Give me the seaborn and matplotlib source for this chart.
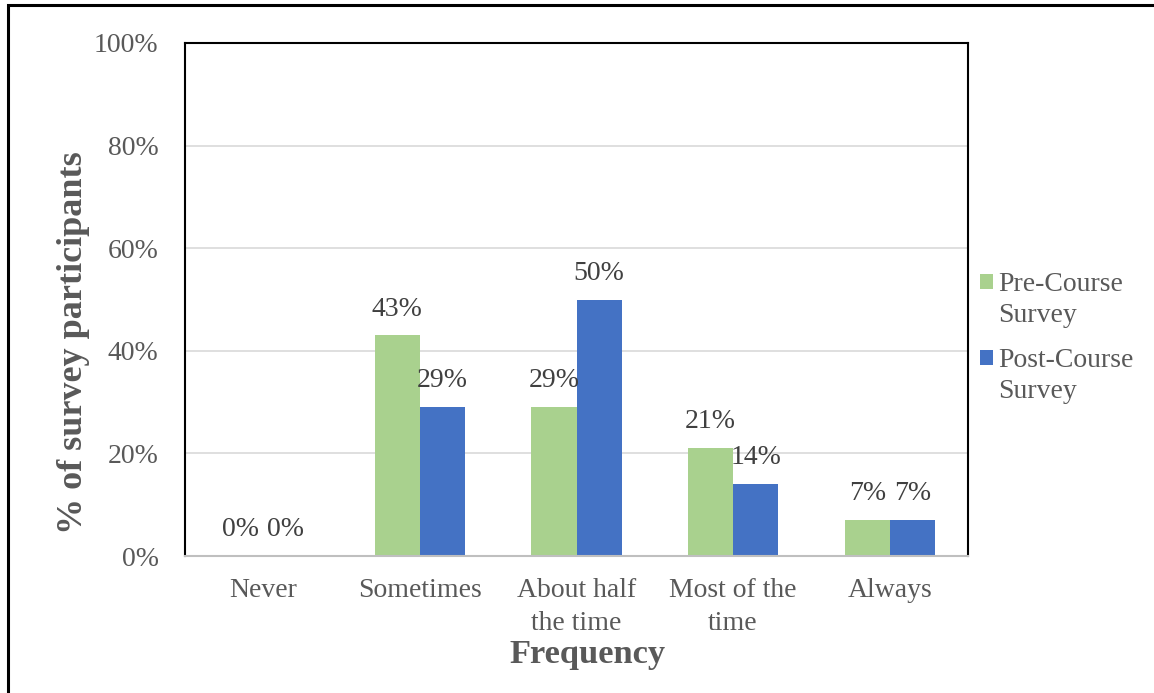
import matplotlib
matplotlib.use("Agg")
import matplotlib.pyplot as plt
import seaborn as sns
import pandas as pd
from matplotlib.patches import Rectangle, Patch
from matplotlib.legend_handler import HandlerPatch

categories = ["Never", "Sometimes", "About half\nthe time", "Most of the\ntime", "Always"]
pre_course = [0, 43, 29, 21, 7]
post_course = [0, 29, 50, 14, 7]
series_names = ["Pre-Course\nSurvey", "Post-Course\nSurvey"]
y_ticks = [0, 20, 40, 60, 80, 100]

df = pd.DataFrame({
    "Frequency": categories * 2,
    "value": pre_course + post_course,
    "series": [series_names[0]] * len(categories) + [series_names[1]] * len(categories),
})

sns.set_theme(style="white")
plt.rcParams["font.family"] = ["Liberation Serif", "DejaVu Serif"]

text_gray = "#595959"
label_gray = "#404040"
colors = ["#A9D18E", "#4472C4"]

fig = plt.figure(figsize=(11.54, 6.93), dpi=100)
ax = fig.add_axes([185 / 1154, 1 - 556 / 693, (968 - 185) / 1154, (556 - 43) / 693])

sns.barplot(data=df, x="Frequency", y="value", hue="series", palette=colors,
            width=0.575, saturation=1, linewidth=0, ax=ax, legend=False)

ax.set_ylim(0, 100)
ax.set_xlim(-0.5, len(categories) - 0.5)
ax.set_yticks(y_ticks)
ax.set_yticklabels([f"{t}%" for t in y_ticks], fontsize=20, color=text_gray)
ax.set_xticks(range(len(categories)))
ax.set_xticklabels(categories, fontsize=20, color=text_gray, linespacing=1.4)
ax.tick_params(axis="y", length=0, pad=19)
ax.tick_params(axis="x", length=0, pad=16)
ax.grid(axis="y", color="#D9D9D9", linewidth=1.2)
ax.set_axisbelow(True)

for side in ["left", "top", "right"]:
    ax.spines[side].set_color("black")
    ax.spines[side].set_linewidth(1.5)
ax.spines["bottom"].set_color("#BFBFBF")
ax.spines["bottom"].set_linewidth(1.5)

for container in ax.containers:
    labels = [f"{int(round(b.get_height()))}%" for b in container]
    ax.bar_label(container, labels=labels, padding=10, fontsize=20, color=label_gray)

ax.set_xlabel("Frequency", fontsize=24.8, fontweight="bold", color=text_gray, labelpad=0)
ax.xaxis.set_label_coords((588 - 185) / (968 - 185), -(639 - 556) / (556 - 43), transform=ax.transAxes)
ax.xaxis.label.set_verticalalignment("top")
ax.set_ylabel("% of survey participants", fontsize=26, fontweight="bold", color=text_gray)
ax.yaxis.set_label_coords(-(185 - 90) / (968 - 185), (556 - 343) / (556 - 43), transform=ax.transAxes)
ax.yaxis.label.set_verticalalignment("bottom")


def first_line_square(legend, orig_handle, xdescent, ydescent, width, height, fontsize):
    # keep the colour square level with the first line of a two-line label
    return Rectangle((-xdescent, -ydescent + 13), width, height)


handles = [Patch(facecolor=c, edgecolor="none") for c in colors]
leg = fig.legend(handles, series_names, loc="upper left", bbox_to_anchor=(969 / 1154, 1 - 261 / 693),
                 frameon=False, fontsize=20, labelcolor=text_gray, handlelength=0.45, handleheight=0.45,
                 handletextpad=0.2, labelspacing=0.72, borderaxespad=0,
                 handler_map={Patch: HandlerPatch(patch_func=first_line_square)})
for t in leg.get_texts():
    t.set_linespacing(1.32)

fig.patches.append(Rectangle((8 / 1154, -0.1), 1.2, 1 - 5 / 693 + 0.1, transform=fig.transFigure,
                             fill=False, edgecolor="black", linewidth=2.2, zorder=10))

fig.savefig("out.png", dpi=100)
